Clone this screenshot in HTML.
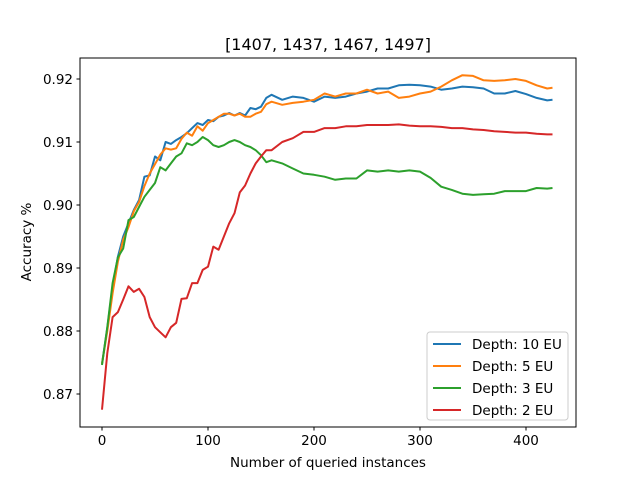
<!DOCTYPE html>
<html><head><meta charset="utf-8"><style>
body{margin:0;background:#fff}
svg text{font-family:"DejaVu Sans","Liberation Sans",sans-serif;fill:#000}
</style></head><body>
<svg id="chart" width="640" height="480" viewBox="0 0 640 480" xmlns="http://www.w3.org/2000/svg">
<rect width="640" height="480" fill="#fff"/>
<text x="328" y="50" font-size="16" text-anchor="middle">[1407, 1437, 1467, 1497]</text>
<g id="plot"></g>
<rect x="80" y="58" width="496" height="369" fill="none" stroke="#000" stroke-width="1"/>
<text x="328" y="467" font-size="13.5" text-anchor="middle">Number of queried instances</text>
<text transform="translate(31,242) rotate(-90)" font-size="13.5" text-anchor="middle">Accuracy %</text>
<g id="legend"></g>
</svg>
<script>
const xTicks=[0,100,200,300,400];
const yTicks=[0.87,0.88,0.89,0.90,0.91,0.92];
const yTickLabels=["0.87","0.88","0.89","0.90","0.91","0.92"];
const xValues=[0,5,10,15,20,25,30,35,40,45,50,55,60,65,70,75,80,85,90,95,100,105,110,115,120,125,130,135,140,145,150,155,160,170,180,190,200,210,220,230,240,250,260,270,280,290,300,310,320,330,340,350,360,370,380,390,400,410,420,425];
const seriesNames=["Depth: 10 EU","Depth: 5 EU","Depth: 3 EU","Depth: 2 EU"];
const depth10=[0.8748,0.8805,0.887,0.8918,0.895,0.8971,0.8992,0.9008,0.9045,0.9047,0.9077,0.9071,0.91,0.9097,0.9103,0.9108,0.9114,0.9122,0.913,0.9127,0.9135,0.9133,0.914,0.9142,0.9146,0.9142,0.9146,0.9142,0.9154,0.9152,0.9156,0.917,
0.9175,0.9167,0.9172,0.917,0.9164,0.9172,0.917,0.9172,0.9177,0.918,0.9185,0.9185,0.919,0.9191,0.919,0.9188,0.9183,0.9185,0.9188,0.9187,0.9185,0.9177,0.9177,0.9181,0.9176,0.917,0.9166,0.9167];
const depth5=[0.8748,0.88,0.886,0.891,0.8945,0.8965,0.899,0.9005,0.903,0.905,0.9065,0.908,0.909,0.9088,0.909,0.9105,0.9115,0.911,0.9125,0.9118,0.913,0.9135,0.914,0.9145,0.9145,0.9142,0.9145,0.914,0.914,0.9145,0.9148,0.916,
0.9164,0.9159,0.9162,0.9164,0.9167,0.9177,0.9172,0.9177,0.9177,0.9183,0.9177,0.918,0.917,0.9172,0.9177,0.918,0.9188,0.9198,0.9206,0.9205,0.9198,0.9197,0.9198,0.92,0.9197,0.919,0.9185,0.9186];
const depth3=[0.8746,0.8806,0.8876,0.8917,0.8931,0.8976,0.8981,0.8997,0.9013,0.9024,0.9035,0.906,0.9055,0.9066,0.9077,0.9082,0.9098,0.9095,0.91,0.9108,0.9103,0.9095,0.9092,0.9095,0.91,0.9103,0.91,0.9095,0.9092,0.9087,0.9079,0.9068,
0.9071,0.9066,0.9058,0.905,0.9048,0.9045,0.904,0.9042,0.9042,0.9055,0.9053,0.9055,0.9053,0.9055,0.9053,0.9043,0.9029,0.9024,0.9018,0.9016,0.9017,0.9018,0.9022,0.9022,0.9022,0.9027,0.9026,0.9027];
const depth2=[0.8675,0.8765,0.8822,0.883,0.885,0.8871,0.8862,0.8867,0.8854,0.8822,0.8806,0.8798,0.879,0.8806,0.8813,0.8851,0.8852,0.8876,0.8876,0.8897,0.8902,0.8934,0.8929,0.895,0.8971,0.8987,0.902,0.9031,0.905,0.9066,0.9077,0.9087,
0.9087,0.91,0.9106,0.9116,0.9116,0.9122,0.9122,0.9125,0.9125,0.9127,0.9127,0.9127,0.9128,0.9126,0.9125,0.9125,0.9124,0.9122,0.9122,0.912,0.9119,0.9117,0.9116,0.9115,0.9115,0.9113,0.9112,0.9112];
const colors=["#1f77b4","#ff7f0e","#2ca02c","#d62728"];
const NS="http://www.w3.org/2000/svg";
const xs=v=>102+v*1.06;
const ys=v=>79+(0.92-v)*6300;
const plot=document.getElementById('plot');
function mk(tag,attrs,parent){const e=document.createElementNS(NS,tag);for(const k in attrs)e.setAttribute(k,attrs[k]);parent.appendChild(e);return e;}
xTicks.forEach(t=>{
  const l=mk('line',{x1:xs(t),x2:xs(t),y1:427,y2:430.5,stroke:'#000'},plot);
  
  
  const tx=mk('text',{x:xs(t),y:445,'font-size':'13.5','text-anchor':'middle'},plot);
  tx.textContent=String(t);
  
  
});
yTicks.forEach((t,i)=>{
  const l=mk('line',{x1:76.5,x2:80,y1:ys(t),y2:ys(t),stroke:'#000'},plot);
  
  
  const tx=mk('text',{x:73,y:ys(t)+5,'font-size':'13.5','text-anchor':'end'},plot);
  tx.textContent=yTickLabels[i];
  
  
});
const allSeries=[depth10,depth5,depth3,depth2];
const seriesKeys=['depth-10','depth-5','depth-3','depth-2'];
allSeries.forEach((s,i)=>{
  const pts=s.map((v,j)=>xs(xValues[j]).toFixed(1)+','+ys(v).toFixed(1)).join(' ');
  const p=mk('polyline',{points:pts,fill:'none',stroke:colors[i],'stroke-width':2,'stroke-linejoin':'round'},plot);
  
  
});
const lg=document.getElementById('legend');
mk('rect',{x:427,y:332,width:141,height:88,rx:3,fill:'#fff','fill-opacity':0.8,stroke:'#ccc'},lg);
seriesNames.forEach((n,i)=>{
  const y=344+i*22;
  const l=mk('line',{x1:433,x2:461,y1:y,y2:y,stroke:colors[i],'stroke-width':2},lg);
  
  
  const t=mk('text',{x:472,y:y+5,'font-size':'13.5'},lg);
  t.textContent=n;
  
  
});
</script>
</body></html>
